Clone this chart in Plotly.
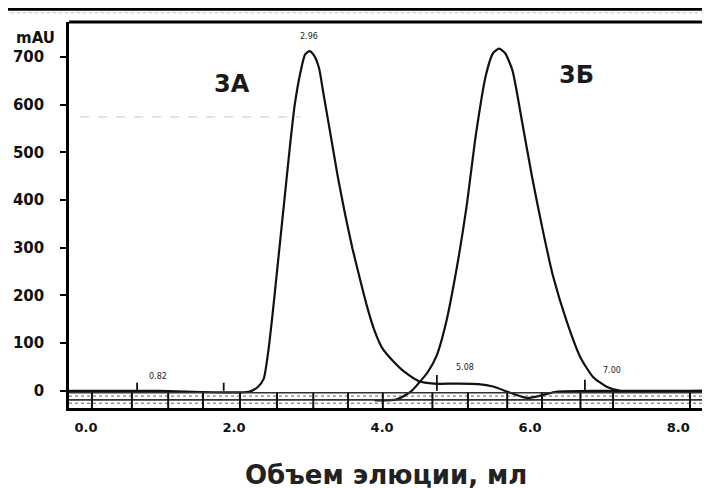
import plotly.graph_objects as go

# ---- data ----
# Run 3А (first chromatogram): elution volume (ml) / absorbance (mAU)
xA = [-0.24, 1.0, 2.20, 2.32, 2.40, 2.46, 2.52, 2.58, 2.64, 2.70, 2.76, 2.82, 2.90, 2.96,
      3.02, 3.08, 3.15, 3.20, 3.30, 3.40, 3.50, 3.60, 3.70, 3.80, 3.90, 4.00, 4.15, 4.30,
      4.50, 4.70, 5.00, 5.30, 5.50, 5.73, 5.96, 6.19, 6.35, 6.95, 8.43]
yA = [0, 0, -2, 8, 25, 80, 160, 250, 340, 430, 520, 600, 670, 705,
      712, 703, 675, 630, 540, 450, 370, 298, 235, 175, 125, 90, 62, 40,
      20, 15, 15, 14, 9, -4, -15, -8, -2, 0, 0]

# Run 3Б (second chromatogram)
xB = [3.90, 4.20, 4.40, 4.50, 4.62, 4.74, 4.86, 5.00, 5.14, 5.27, 5.40, 5.50, 5.58, 5.66,
      5.76, 5.89, 6.03, 6.18, 6.31, 6.50, 6.68, 6.85, 7.04, 7.22, 8.43]
yB = [-20, -18, 0, 17, 40, 75, 140, 250, 385, 540, 660, 708, 717, 708,
      672, 565, 445, 330, 240, 143, 70, 29, 8, 0, 0]

# integration event markers and their labels
marker_x = [0.69, 1.86, 4.74, 6.74]
marker_h = [17, 17, 33, 23]
rt_labels = ["0.82", "2.96", "5.08", "7.00"]
rt_label_x = [0.97, 3.01, 5.12, 7.10]
rt_label_y = [29, 742, 48, 42]

# baseline event-band divisions
band_x = [0.08, 0.62, 1.11, 1.58, 2.08, 2.58, 3.07, 3.54, 4.01, 4.68, 5.16, 5.69,
          6.16, 6.68, 7.12, 8.16]
band_y = [-4, -11, -19, -26]

x_ticks = [0, 2, 4, 6, 8]
x_ticktext = ["0.0", "2.0", "4.0", "6.0", "8.0"]
y_ticks = [0, 100, 200, 300, 400, 500, 600, 700]

peak_names = ["3А", "3Б"]
peak_name_x = [1.97, 6.62]
peak_name_y = [644, 662]

XR = [-0.23, 8.43]
YR = [-36, 773]

fig = go.Figure()
line_style = dict(color="#111111", width=2.2, shape="spline", smoothing=0.6)
fig.add_trace(go.Scatter(x=xA, y=yA, mode="lines", line=line_style, hoverinfo="skip"))
fig.add_trace(go.Scatter(x=xB, y=yB, mode="lines", line=line_style, hoverinfo="skip"))

shapes = []
# band horizontal lines
for i, by in enumerate(band_y):
    shapes.append(dict(type="line", xref="x", yref="y", x0=XR[0], x1=XR[1], y0=by, y1=by,
                       line=dict(color="#333333", width=1.6 if i in (0, 2) else 0.8,
                                 dash="solid" if i in (0, 2) else "dot")))
for bx in band_x:
    shapes.append(dict(type="line", xref="x", yref="y", x0=bx, x1=bx, y0=-4, y1=YR[0],
                       line=dict(color="#111111", width=2)))
for mx, mh in zip(marker_x, marker_h):
    shapes.append(dict(type="line", xref="x", yref="y", x0=mx, x1=mx, y0=0, y1=mh,
                       line=dict(color="#111111", width=1.8)))
# frame decorations (scanned page)
shapes.append(dict(type="line", xref="paper", yref="paper", x0=-0.2, x1=1.0, y0=1.034, y1=1.034,
                   line=dict(color="#000000", width=3.5)))
shapes.append(dict(type="line", xref="paper", yref="paper", x0=-0.1, x1=1.0, y0=1.024, y1=1.024,
                   line=dict(color="#bbbbbb", width=1, dash="dot")))
shapes.append(dict(type="line", xref="paper", yref="paper", x0=0, x1=1.0, y0=1.0, y1=1.0,
                   line=dict(color="#000000", width=3)))
shapes.append(dict(type="line", xref="x", yref="y", x0=-0.08, x1=2.9, y0=574, y1=574,
                   line=dict(color="#c8c8c8", width=1, dash="dash")))

annotations = []
for t, tx, ty in zip(rt_labels, rt_label_x, rt_label_y):
    annotations.append(dict(x=tx, y=ty, xref="x", yref="y", text=t, showarrow=False,
                            font=dict(family="DejaVu Sans", size=8, color="#222222")))
for t, tx, ty in zip(peak_names, peak_name_x, peak_name_y):
    annotations.append(dict(x=tx, y=ty, xref="x", yref="y", text=t, showarrow=False,
                            font=dict(family="DejaVu Sans", size=24, color="#1a1a1a", weight="bold")))
annotations.append(dict(x=-0.019, y=0.9585, xref="paper", yref="paper", text="mAU",
                        showarrow=False, xanchor="right", yanchor="middle",
                        font=dict(family="DejaVu Sans", size=15, color="#111111", weight="bold")))
annotations.append(dict(x=0.494, y=-0.174, xref="paper", yref="paper", text="Объем элюции, мл",
                        showarrow=False, xanchor="center", yanchor="middle",
                        font=dict(family="DejaVu Sans", size=26, color="#222222", weight="bold")))

# the page body adds an 8px offset, so the figure is sized 8px smaller
fig.update_layout(
    width=702, height=481,
    margin=dict(l=61, r=0, t=14, b=81, autoexpand=False),
    paper_bgcolor="white", plot_bgcolor="white",
    showlegend=False,
    shapes=shapes, annotations=annotations,
    xaxis=dict(range=XR, tickvals=x_ticks, ticktext=x_ticktext, showgrid=False, zeroline=False,
               showline=True, linecolor="#000000", linewidth=2.5, ticks="",
               ticklabelstandoff=6, automargin=False,
               tickfont=dict(family="DejaVu Sans", size=13, color="#111111", weight="bold")),
    yaxis=dict(range=YR, tickvals=y_ticks, showgrid=False, zeroline=False,
               showline=True, linecolor="#000000", linewidth=2.5, ticks="outside",
               ticklen=6, tickwidth=2, tickcolor="#000000", ticklabelstandoff=13, automargin=False,
               tickfont=dict(family="DejaVu Sans", size=15, color="#111111", weight="bold")),
)

fig.write_html("out.html")
